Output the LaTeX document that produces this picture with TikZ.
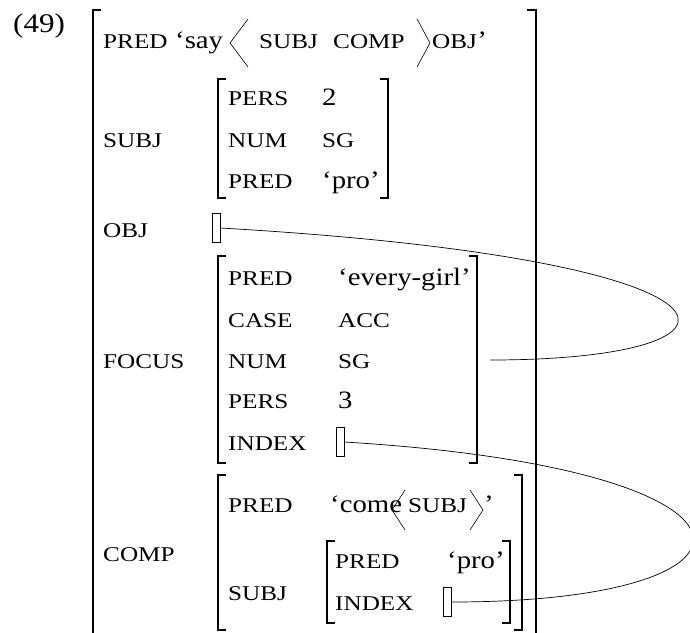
\documentclass[tikz,border=0pt]{standalone}
\usepackage{fontspec}
\setmainfont{Liberation Serif}[FakeStretch=1.15]
\newfontfamily\smcfont{Liberation Serif}[FakeStretch=1.2]
\newcommand{\labfont}{\smcfont\fontsize{21pt}{24pt}\selectfont}
\newcommand{\valfont}{\rmfamily\fontsize{25pt}{30pt}\selectfont}
\tikzset{
  lab/.style={anchor=base west, inner sep=0pt, font=\labfont},
  val/.style={anchor=base west, inner sep=0pt, font=\valfont},
  avm/.style={line width=1.7pt},
  emptyf/.style={draw, line width=0.6pt, minimum width=8pt, minimum height=29pt, inner sep=0pt},
  link/.style={line width=0.7pt},
  angl/.style={line width=0.6pt}
}
\begin{document}
\begin{tikzpicture}[x=1pt, y=-1pt]
\useasboundingbox (0,0) rectangle (690,632);

\node[val, font=\rmfamily\fontsize{27pt}{30pt}\selectfont] (exno) at (13,32) {(49)};

\draw[avm] (101,10) -| (93,640);
\draw[avm] (527,10) -| (536,640);

\node[lab] (fpred) at (103,48) {PRED};
\node[val] (fsay) at (175,48) {`say};
\node[lab] (fsubjarg) at (259,48) {SUBJ};
\node[lab] (fcomparg) at (333,48) {COMP};
\node[lab] (fobj) at (432,48) {OBJ};
\node[val] (fq) at (fobj.base east) {'};
\draw[angl] (248,19) -- (230,43) -- (248,67);
\draw[angl] (417,19) -- (430,43) -- (417,67);

\node[lab] (subj) at (103,147) {SUBJ};
\draw[avm] (226,79) -| (218,198) -- (226,198);
\draw[avm] (380,79) -| (388,198) -- (380,198);
\node[lab] (spers) at (228,105) {PERS};
\node[val] (spersv) at (322,105) {2};
\node[lab] (snum) at (228,147) {NUM};
\node[lab] (snumv) at (322,147) {SG};
\node[lab] (spred) at (228,188) {PRED};
\node[val] (spredv) at (322,188) {`pro'};

\node[lab] (obj) at (103,237) {OBJ};
\node[emptyf] (objv) at (216,228) {};

\node[lab] (focus) at (103,368) {FOCUS};
\draw[avm] (226,256) -| (218,463) -- (226,463);
\draw[avm] (469,256) -| (477,463) -- (469,463);
\node[lab] (fcpred) at (228,285) {PRED};
\node[val] (fcpredv) at (338,285) {`every-girl'};
\node[lab] (fccase) at (228,327) {CASE};
\node[lab] (fccasev) at (338,327) {ACC};
\node[lab] (fcnum) at (228,368) {NUM};
\node[lab] (fcnumv) at (338,368) {SG};
\node[lab] (fcpers) at (228,408) {PERS};
\node[val] (fcpersv) at (338,408) {3};
\node[lab] (fcidx) at (228,450) {INDEX};
\node[emptyf] (fidx) at (340,442) {};
\coordinate (focusR) at (490,360);

\node[lab] (comp) at (103,561) {COMP};
\draw[avm] (226,475) -| (218,630) -- (226,630);
\draw[avm] (514,475) -| (522,630) -- (514,630);
\node[lab] (cpred) at (228,512) {PRED};
\node[val] (ccome) at (330,512) {`come};
\node[lab] (carg) at (408,512) {SUBJ};
\node[val] (cq) at (484,512) {'};
\draw[angl] (405,490) -- (392,510) -- (405,530);
\draw[angl] (470,490) -- (483,510) -- (470,530);
\node[lab] (csubj) at (228,600) {SUBJ};
\draw[avm] (335,541) -| (327,623) -- (335,623);
\draw[avm] (502,541) -| (510,623) -- (502,623);
\node[lab] (cspred) at (335,568) {PRED};
\node[val] (cspredv) at (447,568) {`pro'};
\node[lab] (csidx) at (335,610) {INDEX};
\node[emptyf] (cidx) at (447,602) {};

\draw[link] (objv.east) .. controls (775,260) and (775,360) .. (focusR);
\draw[link] (fidx.east) .. controls (790,469) and (790,602) .. (cidx.east);
\end{tikzpicture}
\end{document}
